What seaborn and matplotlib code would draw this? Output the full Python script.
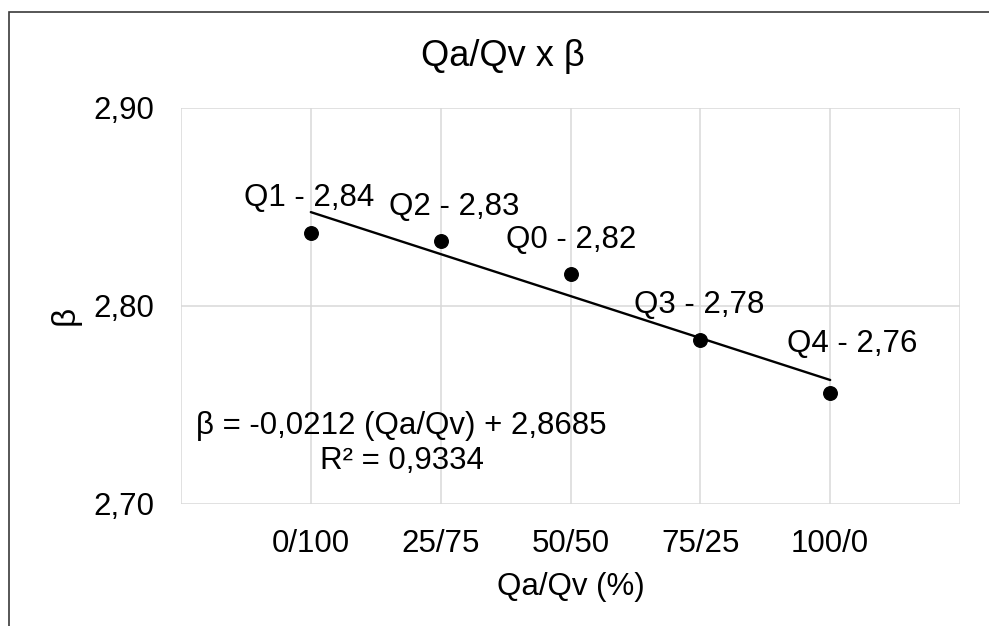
import numpy as np
import pandas as pd
import matplotlib
matplotlib.use("Agg")
import matplotlib.pyplot as plt
from matplotlib.patches import Rectangle
import seaborn as sns

sns.set_theme(style="white")
plt.rcParams["font.family"] = ["Liberation Sans", "DejaVu Sans"]

# data
mix_labels = ["0/100", "25/75", "50/50", "75/25", "100/0"]
mix_pos = [1, 2, 3, 4, 5]
series_names = ["Q1", "Q2", "Q0", "Q3", "Q4"]
beta = [2.837, 2.833, 2.816, 2.783, 2.756]
y_ticks = [2.70, 2.80, 2.90]

df = pd.DataFrame({"pos": mix_pos, "beta": beta, "name": series_names})

fig = plt.figure(figsize=(9.89, 6.26), dpi=100)
ax = fig.add_axes([0.183, 0.195, 0.7877, 0.6325])

# outer chart frame
fig.patches.append(Rectangle((0.0096, -0.05), 1.2, 1.031, transform=fig.transFigure,
                             fill=False, edgecolor="#3a3a3a", linewidth=1.2))

sns.regplot(data=df, x="pos", y="beta", ci=None, ax=ax,
            scatter_kws={"s": 95, "color": "black", "alpha": 1, "zorder": 3},
            line_kws={"color": "black", "linewidth": 1.7})

# data labels, nudged the way they sit in the original
offsets = [(-2, 35), (14, 34), (1, 34), (-1, 35), (22, 49)]
for (x, y, n), (dx, dy) in zip(zip(mix_pos, beta, series_names), offsets):
    ax.annotate(f"{n} - {y:.2f}".replace(".", ","), (x, y),
                xytext=(dx, dy), textcoords="offset pixels",
                ha="center", va="center", fontsize=22.5, color="black")

ax.text(1.70, 2.7305, "β = -0,0212 (Qa/Qv) + 2,8685\nR² = 0,9334",
        ha="center", va="center", fontsize=22.5, color="black",
        multialignment="center", linespacing=1.22)

ax.set_xlim(0, 6)
ax.set_ylim(2.70, 2.90)
ax.set_xticks(range(0, 7))
ax.set_xticklabels([""] + mix_labels + [""])
ax.set_yticks(y_ticks)
ax.set_yticklabels([f"{v:.2f}".replace(".", ",") for v in y_ticks])
ax.tick_params(axis="both", length=0, labelsize=22.5, colors="black")
ax.tick_params(axis="x", pad=18)
ax.tick_params(axis="y", pad=19)
for lbl in ax.get_xticklabels():
    lbl.set_x(lbl.get_position()[0])
ax.grid(True, color="#d9d9d9", linewidth=1.1)
ax.set_axisbelow(True)
for s in ax.spines.values():
    s.set_visible(False)

ax.set_xlabel("Qa/Qv (%)", fontsize=22.5, color="black")
ax.set_ylabel("β", fontsize=24, color="black")
ax.xaxis.set_label_coords(0.50, -0.21)
ax.xaxis.label.set_va("center")
ax.yaxis.set_label_coords(-0.149, 0.475)
ax.yaxis.label.set_va("center")

fig.text(0.508, 0.91, "Qa/Qv x β", ha="center", va="center", fontsize=26, color="black")

fig.savefig("out.png", dpi=100, facecolor="white")
